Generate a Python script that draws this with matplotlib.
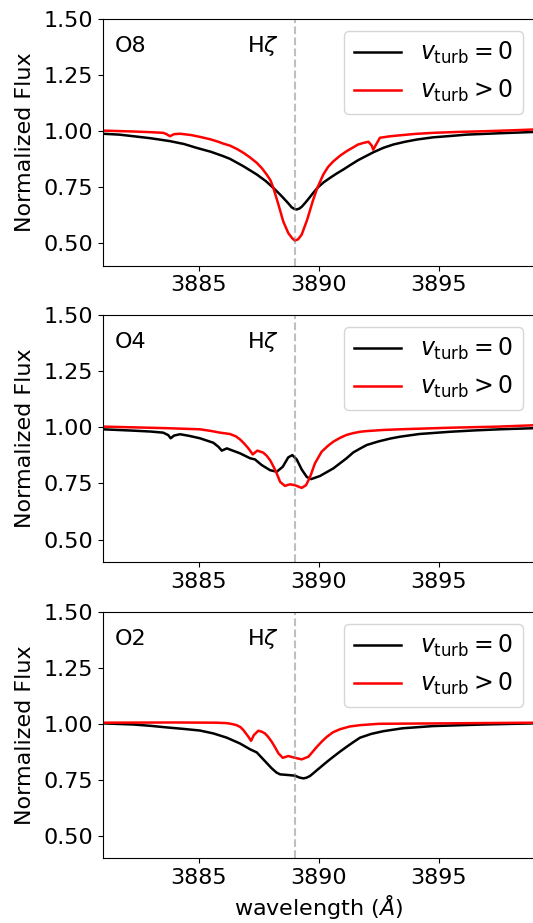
import matplotlib
matplotlib.use("Agg")
import matplotlib.pyplot as plt

# --- Data (wavelength in Angstrom, normalized flux) ---
O8_WAVE_0 = [3881.0, 3881.7, 3882.28, 3883.0, 3883.81, 3884.4, 3884.92, 3885.5,
             3886.03, 3886.31, 3886.87, 3887.43, 3887.8, 3888.12, 3888.35, 3888.53,
             3888.72, 3888.88, 3889.0, 3889.09, 3889.2, 3889.30, 3889.45, 3889.58,
             3889.75, 3889.95, 3890.2, 3890.48, 3890.75, 3891.03, 3891.35, 3891.65,
             3892.28, 3892.7, 3893.12, 3893.6, 3894.09, 3894.78, 3895.5, 3896.17,
             3897.5, 3899.0]
O8_FLUX_0 = [0.988, 0.984, 0.977, 0.968, 0.955, 0.942, 0.925, 0.908,
             0.888, 0.876, 0.843, 0.806, 0.777, 0.746, 0.722, 0.702,
             0.680, 0.660, 0.652, 0.650, 0.654, 0.662, 0.680, 0.697,
             0.720, 0.746, 0.770, 0.791, 0.810, 0.828, 0.850, 0.870,
             0.905, 0.925, 0.940, 0.952, 0.962, 0.972, 0.978, 0.984,
             0.990, 0.996]
O8_WAVE_T = [3881.0, 3882.28, 3883.0, 3883.53, 3883.67, 3883.81, 3883.98, 3884.23,
             3884.7, 3885.06, 3885.5, 3885.83, 3886.03, 3886.31, 3886.6, 3886.87,
             3887.15, 3887.43, 3887.65, 3887.84, 3888.0, 3888.12, 3888.33, 3888.53,
             3888.74, 3888.9, 3889.02, 3889.15, 3889.30, 3889.53, 3889.76, 3889.95,
             3890.20, 3890.40, 3890.62, 3890.9, 3891.17, 3891.65, 3891.87, 3892.08,
             3892.22, 3892.28, 3892.40, 3892.56, 3893.0, 3893.40, 3894.0, 3894.78,
             3895.8, 3896.87, 3898.0, 3899.0]
O8_FLUX_T = [1.002, 0.998, 0.995, 0.992, 0.986, 0.977, 0.986, 0.988,
             0.982, 0.974, 0.963, 0.952, 0.944, 0.935, 0.920, 0.903,
             0.882, 0.858, 0.833, 0.806, 0.780, 0.746, 0.672, 0.597,
             0.545, 0.522, 0.511, 0.517, 0.538, 0.605, 0.687, 0.746,
             0.806, 0.840, 0.865, 0.890, 0.910, 0.940, 0.947, 0.952,
             0.935, 0.917, 0.940, 0.970, 0.977, 0.981, 0.987, 0.992,
             0.996, 0.999, 1.003, 1.007]

O4_WAVE_0 = [3881.0, 3882.28, 3883.0, 3883.53, 3883.74, 3883.84, 3883.98, 3884.23,
             3884.6, 3885.06, 3885.62, 3885.83, 3885.97, 3886.18, 3886.73, 3887.15,
             3887.35, 3887.63, 3887.98, 3888.26, 3888.51, 3888.74, 3888.91, 3889.09,
             3889.30, 3889.51, 3889.69, 3890.06, 3890.62, 3891.17, 3891.45, 3891.73,
             3892.01, 3892.5, 3893.0, 3893.40, 3894.2, 3895.48, 3896.5, 3897.56,
             3899.0]
O4_FLUX_0 = [0.991, 0.985, 0.981, 0.976, 0.965, 0.951, 0.963, 0.969,
             0.962, 0.951, 0.931, 0.913, 0.896, 0.906, 0.884, 0.862,
             0.857, 0.832, 0.809, 0.802, 0.824, 0.866, 0.876, 0.857,
             0.812, 0.779, 0.769, 0.783, 0.817, 0.862, 0.888, 0.905,
             0.921, 0.937, 0.950, 0.958, 0.970, 0.980, 0.986, 0.991,
             0.996]
O4_WAVE_T = [3881.0, 3883.67, 3885.06, 3885.5, 3885.90, 3886.31, 3886.55, 3886.73,
             3886.9, 3887.08, 3887.26, 3887.45, 3887.70, 3887.85, 3887.98, 3888.1,
             3888.23, 3888.40, 3888.60, 3888.81, 3889.02, 3889.30, 3889.48, 3889.65,
             3889.85, 3890.13, 3890.4, 3890.62, 3890.9, 3891.17, 3891.45, 3891.73,
             3892.01, 3892.7, 3893.40, 3895.48, 3897.5, 3899.0]
O4_FLUX_T = [1.003, 0.996, 0.991, 0.984, 0.976, 0.970, 0.960, 0.946,
             0.928, 0.906, 0.879, 0.896, 0.887, 0.872, 0.854, 0.830,
             0.802, 0.757, 0.739, 0.746, 0.742, 0.730, 0.742, 0.779,
             0.839, 0.891, 0.918, 0.936, 0.953, 0.966, 0.974, 0.980,
             0.983, 0.988, 0.991, 0.998, 1.003, 1.009]

O2_WAVE_0 = [3881.0, 3882.28, 3883.0, 3883.67, 3884.4, 3885.06, 3885.62, 3886.18,
             3886.73, 3887.15, 3887.43, 3887.70, 3888.05, 3888.25, 3888.40, 3888.74,
             3889.02, 3889.2, 3889.37, 3889.5, 3889.65, 3889.85, 3890.06, 3890.35,
             3890.62, 3890.9, 3891.17, 3891.45, 3891.73, 3892.2, 3892.70, 3893.5,
             3894.78, 3896.87, 3899.0]
O2_FLUX_0 = [1.002, 0.997, 0.991, 0.984, 0.977, 0.970, 0.957, 0.938,
             0.912, 0.886, 0.872, 0.841, 0.801, 0.782, 0.774, 0.771,
             0.768, 0.760, 0.756, 0.759, 0.767, 0.785, 0.804, 0.830,
             0.853, 0.876, 0.897, 0.918, 0.938, 0.955, 0.967, 0.980,
             0.990, 0.997, 1.002]
O2_WAVE_T = [3881.0, 3884.0, 3885.76, 3886.18, 3886.4, 3886.59, 3886.75, 3886.87,
             3887.08, 3887.19, 3887.31, 3887.49, 3887.63, 3887.77, 3887.9, 3888.05,
             3888.2, 3888.33, 3888.51, 3888.74, 3889.02, 3889.30, 3889.58, 3889.75,
             3889.93, 3890.15, 3890.35, 3890.6, 3890.90, 3891.3, 3891.73, 3892.5,
             3899.0]
O2_FLUX_T = [1.005, 1.006, 1.005, 1.003, 0.999, 0.994, 0.985, 0.972,
             0.942, 0.924, 0.950, 0.969, 0.965, 0.957, 0.942, 0.920,
             0.893, 0.868, 0.848, 0.856, 0.848, 0.841, 0.853, 0.874,
             0.897, 0.922, 0.942, 0.962, 0.976, 0.988, 0.994, 1.000,
             1.005]

PANELS = [
    ("O8", O8_WAVE_0, O8_FLUX_0, O8_WAVE_T, O8_FLUX_T),
    ("O4", O4_WAVE_0, O4_FLUX_0, O4_WAVE_T, O4_FLUX_T),
    ("O2", O2_WAVE_0, O2_FLUX_0, O2_WAVE_T, O2_FLUX_T),
]
H_ZETA = 3889.0
YTICKS = [0.50, 0.75, 1.00, 1.25, 1.50]
XTICKS = [3885, 3890, 3895]

FS = 16
W, H = 533, 923
fig = plt.figure(figsize=(W / 100, H / 100), dpi=100)

# axes boxes in pixels (top, bottom)
boxes = [(19, 265.5), (315, 562), (612, 858)]
left, right = 102.5, 534.5

for (name, w0, f0, wt, ft), (top, bot) in zip(PANELS, boxes):
    ax = fig.add_axes([left / W, 1 - bot / H, (right - left) / W, (bot - top) / H])
    ax.plot(w0, f0, color="black", lw=1.8, label=r"$v_{\rm turb} = 0$")
    ax.plot(wt, ft, color="red", lw=1.8, label=r"$v_{\rm turb} > 0$")
    ax.axvline(H_ZETA, color="gray", alpha=0.5, ls="--", lw=1.5)
    ax.set_xlim(3881, 3899)
    ax.set_ylim(0.40, 1.50)
    ax.set_yticks(YTICKS)
    ax.set_xticks(XTICKS)
    ax.tick_params(labelsize=FS)
    ax.set_ylabel("Normalized Flux", fontsize=FS, labelpad=6)
    ax.text(3881.5, 1.38, name, fontsize=FS, va="center")
    ax.text(3887.0, 1.38, r"H$\zeta$", fontsize=FS, va="center")
    ax.legend(loc="upper right", fontsize=17)

ax.set_xlabel(r"wavelength ($\AA$)", fontsize=FS)

fig.savefig("out.png", dpi=100)
